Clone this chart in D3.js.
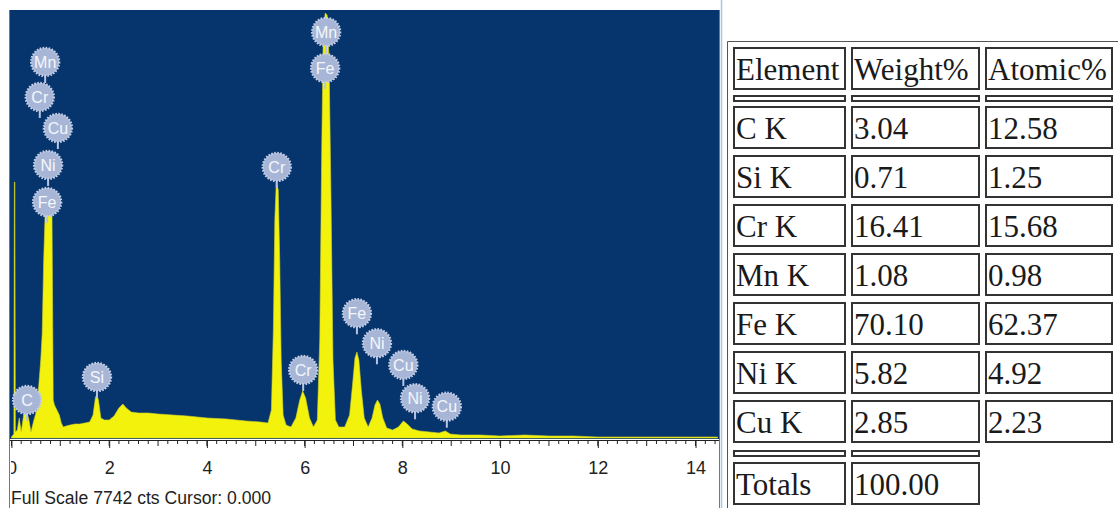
<!DOCTYPE html>
<html>
<head>
<meta charset="utf-8">
<script src="https://cdn.jsdelivr.net/npm/d3@7"></script>
<style>
  html, body { margin: 0; padding: 0; background: #fff; }
  svg { display: block; }
  .axis text { font-family: "Liberation Sans", Arial, sans-serif; font-size: 18px; fill: #222; }
  .axis path, .axis line { stroke: #222; }
</style>
</head>
<body>
<div class="chart"></div>
<script>
// Spectrum (keV, counts)
const energy = [0.00, 0.05, 0.06, 0.07, 0.08, 0.12, 0.16, 0.20, 0.25, 0.30, 0.35, 0.40, 0.46, 0.52,
    0.56, 0.60, 0.63, 0.66, 0.69, 0.75, 0.83, 0.855, 0.88, 0.93, 0.98, 1.02, 1.06, 1.12, 1.2, 1.3,
    1.4, 1.5, 1.6, 1.67, 1.72, 1.75, 1.78, 1.83, 1.9, 2.0, 2.1, 2.2, 2.28, 2.35, 2.45, 2.6, 2.8,
    3.0, 3.3, 3.6, 4.0, 4.4, 4.8, 5.1, 5.25, 5.32, 5.36, 5.39, 5.42, 5.46, 5.49, 5.52, 5.56, 5.62,
    5.72, 5.82, 5.90, 5.96, 6.02, 6.10, 6.18, 6.26, 6.31, 6.35, 6.38, 6.42, 6.46, 6.50, 6.54, 6.58,
    6.63, 6.70, 6.82, 6.92, 6.98, 7.03, 7.07, 7.11, 7.16, 7.22, 7.30, 7.38, 7.44, 7.49, 7.54, 7.60,
    7.68, 7.80, 7.92, 8.02, 8.10, 8.20, 8.35, 8.55, 8.75, 8.88, 8.98, 9.2, 9.6, 10.0, 10.5, 11.0,
    11.5, 12.0, 12.5, 13.0, 13.5, 14.0, 14.45];
const counts = [18, 72, 4631, 4631, 109, 145, 362, 109, 416, 470, 362, 109, 326, 507,
    959, 1411, 1899, 3220, 4070, 4106, 4034, 687, 597, 507, 416, 271, 199, 217, 235, 253,
    253, 271, 289, 416, 742, 778, 687, 362, 326, 326, 398, 543, 615, 543, 470, 452, 452,
    434, 416, 398, 362, 344, 308, 289, 271, 507, 1954, 3944, 4631, 4486, 3220, 1411, 416, 235,
    199, 362, 687, 850, 724, 362, 199, 326, 1773, 5210, 7200, 7688, 7652, 6838, 4305, 1411,
    326, 199, 199, 416, 959, 1447, 1556, 1411, 868, 362, 199, 362, 597, 687, 615, 362,
    181, 145, 199, 308, 253, 163, 127, 109, 90, 127, 72, 54, 54, 36, 54, 36,
    36, 18, 18, 18, 18, 18, 18];

const fullScale = 7742;
const xTickValues = [0, 2, 4, 6, 8, 10, 12, 14];

// Peak markers
const labelNames  = ['Mn', 'Cr', 'Cu', 'Ni', 'Fe', 'C', 'Si', 'Cr', 'Mn', 'Fe', 'Cr', 'Fe', 'Ni', 'Cu', 'Ni', 'Cu'];
const labelEnergy = [0.69, 0.58, 0.95, 0.75, 0.73, 0.32, 1.75, 5.43, 6.44, 6.42, 5.97, 7.07, 7.48, 8.02, 8.26, 8.91];
const labelCounts = [6802, 6169, 5608, 4939, 4269, 687, 1103, 4902, 7345, 6693, 1230, 2256, 1713, 1321, 718, 566];

// Quantification table
const elements = ['C K', 'Si K', 'Cr K', 'Mn K', 'Fe K', 'Ni K', 'Cu K'];
const weightPct = ['3.04', '0.71', '16.41', '1.08', '70.10', '5.82', '2.85'];
const atomicPct = ['12.58', '1.25', '15.68', '0.98', '62.37', '4.92', '2.23'];
const headers = ['Element', 'Weight%', 'Atomic%'];
const totalWeight = '100.00';

const W = 1118, H = 508;
const plot = {left: 9, right: 719, top: 10, bottom: 438};

const svg = d3.select('.chart').append('svg')
    .attr('width', W)
    .attr('height', H);

// Scales
const x = d3.scaleLinear().domain([-0.05, 14.48]).range([plot.left, plot.right]);
const y = d3.scaleLinear().domain([0, fullScale]).range([plot.bottom, plot.top]);

// Background
svg.append('rect')
    .attr('x', plot.left).attr('y', plot.top)
    .attr('width', plot.right - plot.left)
    .attr('height', plot.bottom - plot.top + 1)
    .attr('fill', '#06346c');

// Spectrum
const spectrum = energy.map((e, i) => ({e: e, c: counts[i]}));
const area = d3.area()
    .x(d => x(d.e))
    .y0(plot.bottom)
    .y1(d => y(d.c));

svg.append('path')
    .datum(spectrum)
    .attr('d', area)
    .attr('fill', '#f2f20c')
    .attr('stroke', '#d4d42a')
    .attr('stroke-width', 0.6);

// Axis
const xAxis = d3.axisBottom(x)
    .tickValues(xTickValues)
    .tickSize(8)
    .tickSizeOuter(0)
    .tickPadding(13)
    .tickFormat(d3.format('d'));

const axisG = svg.append('g')
    .attr('class', 'axis')
    .attr('transform', `translate(0, 440)`)
    .call(xAxis);

axisG.selectAll('.minor')
    .data(d3.range(0, 14.41, 0.2))
    .enter()
    .append('line')
    .attr('class', 'minor')
    .attr('x1', d => x(d)).attr('x2', d => x(d))
    .attr('y1', 0)
    .attr('y2', d => Math.abs(d - Math.round(d)) < 0.01 ? 6 : 4)
    .attr('stroke', '#222');

// left edge of the panel hides half of the "0"
svg.append('rect').attr('x', 0).attr('y', 441).attr('width', plot.left + 2).attr('height', 67).attr('fill', '#fff');

svg.append('text')
    .attr('x', 11)
    .attr('y', 504)
    .style('font-family', '"Liberation Sans", Arial, sans-serif')
    .style('font-size', '17.6px')
    .style('fill', '#222')
    .text(`Full Scale ${fullScale} cts Cursor: 0.000`);

// Panel frame
svg.append('line').attr('x1', plot.left + 0.5).attr('x2', plot.left + 0.5).attr('y1', plot.top).attr('y2', H)
    .attr('stroke', '#777');
svg.append('line').attr('x1', plot.right + 0.5).attr('x2', plot.right + 0.5).attr('y1', plot.top).attr('y2', H)
    .attr('stroke', '#777');
svg.append('line').attr('x1', 721.5).attr('x2', 721.5).attr('y1', 0).attr('y2', H)
    .attr('stroke', '#a9c7e3').attr('stroke-width', 1.5);

// Peak labels
const labels = svg.selectAll('.peak-label')
    .data(labelNames.map((n, i) => ({name: n, e: labelEnergy[i], c: labelCounts[i]})))
    .enter()
    .append('g')
    .attr('class', 'peak-label')
    .attr('transform', d => `translate(${x(d.e)}, ${y(d.c)})`);

labels.append('line')
    .attr('x1', 0).attr('x2', 0)
    .attr('y1', 10).attr('y2', 21)
    .attr('stroke', '#b9c5e0')
    .attr('stroke-width', 2);

labels.append('circle')
    .attr('r', 14)
    .attr('fill', '#a7b6d6')
    .attr('stroke', '#c3cde6')
    .attr('stroke-width', 2.4)
    .attr('stroke-dasharray', '1.6 1.4');

labels.append('text')
    .attr('text-anchor', 'middle')
    .attr('dy', '0.36em')
    .style('font-family', '"Liberation Sans", Arial, sans-serif')
    .style('font-size', '16px')
    .style('fill', '#f4f6fb')
    .text(d => d.name);

// Table
const colX = [733, 851, 985];
const colW = [113, 129, 128];
const rowH = 43;

const tableG = svg.append('g').attr('class', 'table');

tableG.append('path')
    .attr('d', `M727.5,${H} V41.5 H${W}`)
    .attr('fill', 'none')
    .attr('stroke', '#555');

function cell(xPos, yPos, w, h, txt) {
    tableG.append('rect')
        .attr('x', xPos + 1).attr('y', yPos + 1)
        .attr('width', w - 2).attr('height', h - 2)
        .attr('fill', '#fff')
        .attr('stroke', '#333')
        .attr('stroke-width', 2);
    if (txt !== undefined) {
        tableG.append('text')
            .attr('x', xPos + 3)
            .attr('y', yPos + 33)
            .style('font-family', '"Liberation Serif", "Times New Roman", serif')
            .style('font-size', '31px')
            .style('fill', '#1a1a1a')
            .text(txt);
    }
}

headers.forEach((h, i) => cell(colX[i], 47, colW[i], rowH, h));
headers.forEach((h, i) => cell(colX[i], 95, colW[i], 7));

elements.forEach((el, r) => {
    const top = 106 + r * 49;
    cell(colX[0], top, colW[0], rowH, el);
    cell(colX[1], top, colW[1], rowH, weightPct[r]);
    cell(colX[2], top, colW[2], rowH, atomicPct[r]);
});

cell(colX[0], 450, colW[0], 7);
cell(colX[1], 450, colW[1], 7);
cell(colX[0], 462, colW[0], rowH, 'Totals');
cell(colX[1], 462, colW[1], rowH, totalWeight);
</script>
</body>
</html>
